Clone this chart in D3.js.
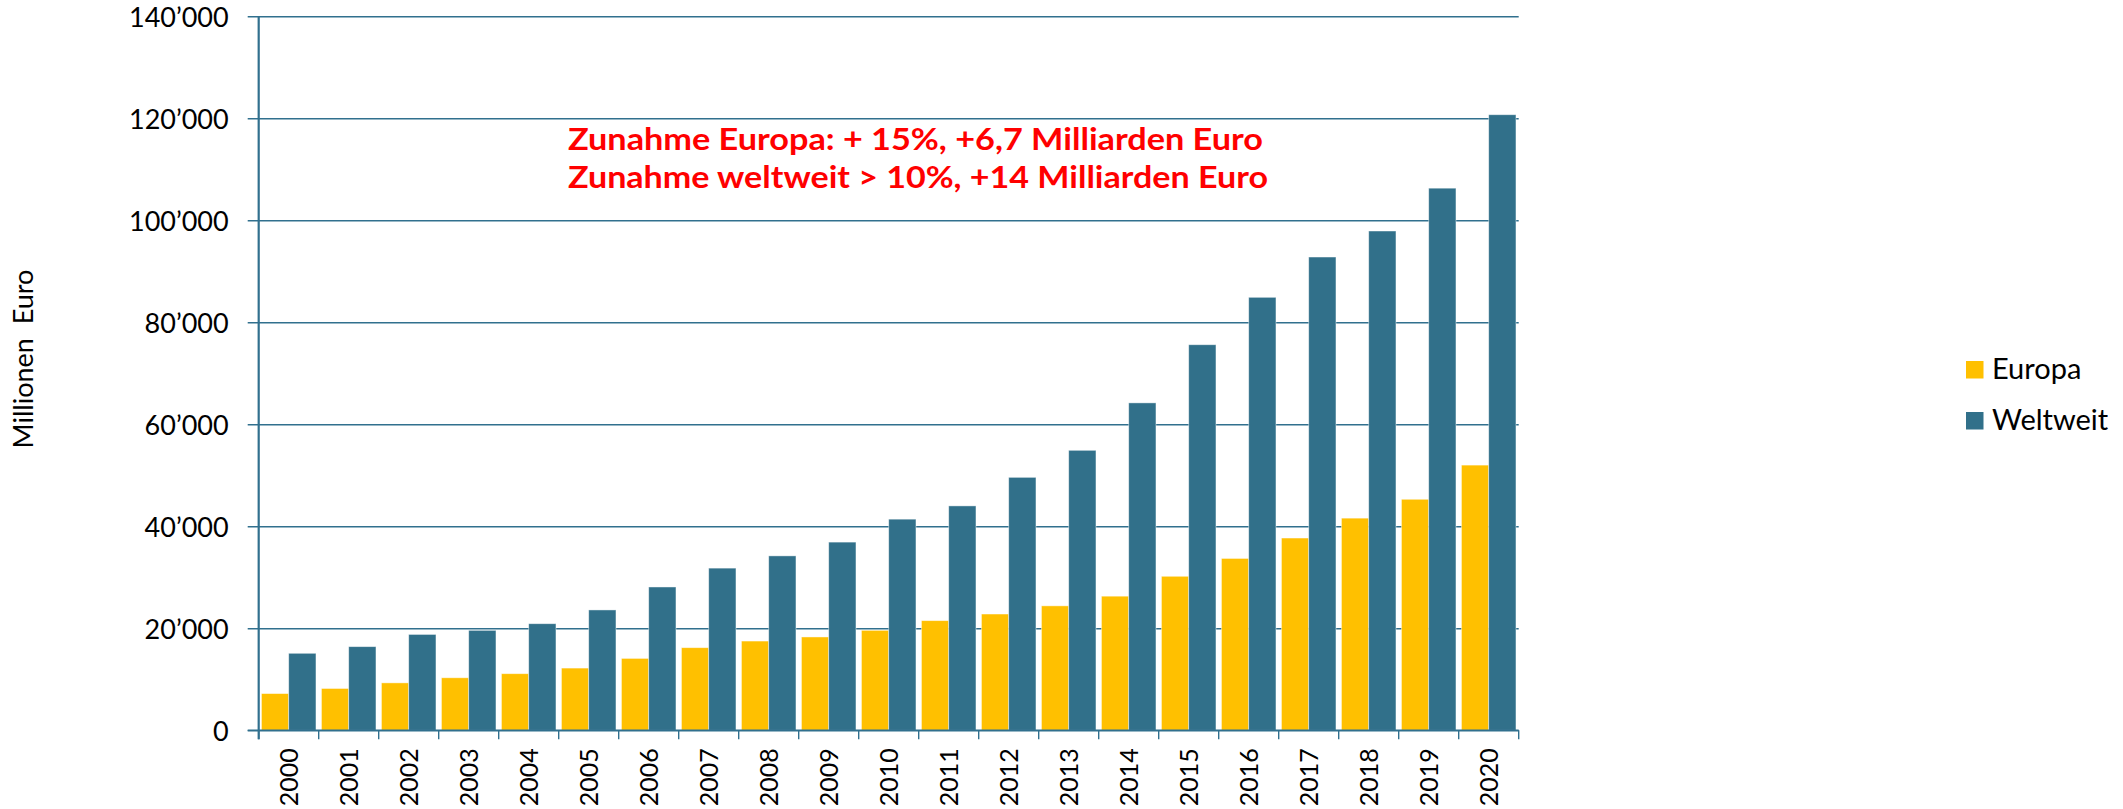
<!DOCTYPE html>
<html>
<head>
<meta charset="utf-8">
<script src="https://cdn.jsdelivr.net/npm/d3@7"></script>
<style>
  body { margin: 0; background: #fff; }
  svg { display: block; font-family: Lato, "Open Sans", sans-serif; }
</style>
</head>
<body>
<div id="chart"></div>
<script>
// Jahre und Werte (Millionen Euro)
const years = ["2000", "2001", "2002", "2003", "2004", "2005", "2006", "2007", "2008", "2009",
               "2010", "2011", "2012", "2013", "2014", "2015", "2016", "2017", "2018", "2019", "2020"];
const europa = [7200, 8200, 9300, 10300, 11100, 12200, 14100, 16200, 17500, 18300,
                19600, 21500, 22800, 24400, 26300, 30200, 33700, 37700, 41600, 45300, 52000];
const weltweit = [15100, 16400, 18800, 19600, 20900, 23600, 28100, 31800, 34200, 36900,
                  41400, 44000, 49600, 54900, 64200, 75600, 84900, 92800, 97900, 106300, 120700];
const seriesNames = ["Europa", "Weltweit"];
const seriesColors = ["#FFC000", "#31708A"];
const yTicks = [0, 20000, 40000, 60000, 80000, 100000, 120000, 140000];
const notes = ["Zunahme Europa: + 15%, +6,7 Milliarden Euro",
               "Zunahme weltweit > 10%, +14 Milliarden Euro"];

const W = 2123, H = 809;
const axisColor = "#31708E";
const plotLeft = 258.7, plotRight = 1518.7, plotTop = 16.3, plotBottom = 730.3;

const svg = d3.select("#chart").append("svg").attr("width", W).attr("height", H);

const x = d3.scaleBand().domain(years).range([plotLeft, plotRight]).paddingInner(0).paddingOuter(0);
const x1 = d3.scaleBand().domain(seriesNames).range([0, x.bandwidth()]).paddingInner(0).paddingOuter(0.1);
const y = d3.scaleLinear().domain([0, 140000]).range([plotBottom, plotTop]);

const fmt = v => d3.format(",")(v).replace(/,/g, "\u2019");

// Gitterlinien + y-Achse
const yAxis = d3.axisLeft(y).tickValues(yTicks).tickFormat(fmt)
  .tickSize(-(plotRight - plotLeft)).tickPadding(0);
const gy = svg.append("g").attr("transform", `translate(${plotLeft},0)`).call(yAxis);
gy.select(".domain").remove();
gy.selectAll(".tick line")
  .attr("x1", -11)
  .attr("stroke", axisColor).attr("stroke-width", 1.4);
gy.selectAll(".tick text")
  .attr("x", -30).attr("dy", "0.36em")
  .attr("font-size", 27).attr("fill", "#000")
  .style("font-family", "Lato, sans-serif");

// Balken
const groups = svg.append("g").selectAll("g")
  .data(years).join("g")
  .attr("transform", d => `translate(${x(d)},0)`);

groups.selectAll("rect")
  .data((d, i) => [europa[i], weltweit[i]].map((v, k) => ({ key: seriesNames[k], value: v, k })))
  .join("rect")
  .attr("x", d => x1(d.key))
  .attr("y", d => y(d.value))
  .attr("width", x1.bandwidth())
  .attr("height", d => y(0) - y(d.value))
  .attr("fill", d => seriesColors[d.k])
  .attr("stroke", "#ffffff")
  .attr("stroke-opacity", 0.55)
  .attr("stroke-width", 0.8);

// x-Achse
const xAxis = d3.axisBottom(x).tickSize(0).tickPadding(0);
const gx = svg.append("g").attr("transform", `translate(0,${plotBottom})`).call(xAxis);
gx.select(".domain").remove();
gx.append("line")
  .attr("x1", plotLeft - 11).attr("x2", plotRight).attr("y1", 0).attr("y2", 0)
  .attr("stroke", axisColor).attr("stroke-width", 1.6);
gx.selectAll(".tick text")
  .attr("transform", "rotate(-90)")
  .attr("x", -18).attr("y", 0).attr("dy", "0.36em")
  .attr("text-anchor", "end")
  .attr("font-size", 25).attr("fill", "#000")
  .style("font-family", "Lato, sans-serif");
// Trennstriche zwischen den Jahren
gx.selectAll("line.sep")
  .data(years.concat(["end"]))
  .join("line")
  .attr("class", "sep")
  .attr("x1", (d, i) => i < years.length ? x(d) : plotRight)
  .attr("x2", (d, i) => i < years.length ? x(d) : plotRight)
  .attr("y1", 0).attr("y2", 9)
  .attr("stroke", axisColor).attr("stroke-width", 1.4);

// vertikale Achsenlinie
svg.append("line")
  .attr("x1", plotLeft).attr("x2", plotLeft).attr("y1", plotTop).attr("y2", plotBottom + 9)
  .attr("stroke", axisColor).attr("stroke-width", 2.2);

// Achsentitel
svg.append("text")
  .attr("transform", "translate(33,359) rotate(-90)")
  .attr("text-anchor", "middle")
  .attr("font-size", 27)
  .attr("fill", "#000")
  .style("white-space", "pre")
  .text("Millionen  Euro");

// Anmerkung
svg.append("g").selectAll("text")
  .data(notes).join("text")
  .attr("x", 568)
  .attr("y", (d, i) => 150 + i * 38)
  .attr("font-size", 31)
  .attr("font-weight", "bold")
  .attr("fill", "#FF0000")
  .attr("textLength", (d, i) => i === 0 ? 695 : 700)
  .attr("lengthAdjust", "spacingAndGlyphs")
  .text(d => d);

// Legende
const legend = svg.append("g").selectAll("g")
  .data(seriesNames).join("g")
  .attr("transform", (d, i) => `translate(1966,${361 + i * 51})`);
legend.append("rect")
  .attr("width", 17.5).attr("height", 17.5)
  .attr("fill", (d, i) => seriesColors[i]);
legend.append("text")
  .attr("x", 26).attr("y", 17.5)
  .attr("font-size", 29)
  .attr("fill", "#000")
  .text(d => d);
</script>
</body>
</html>
